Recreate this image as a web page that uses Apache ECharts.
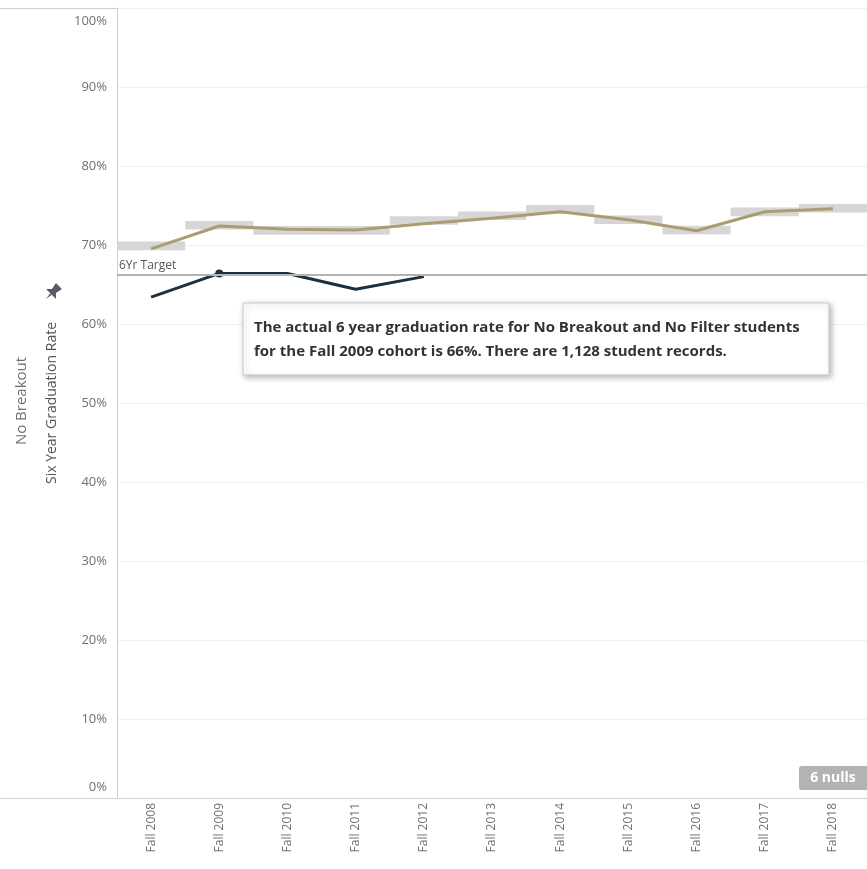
<!DOCTYPE html>
<html>
<head>
<meta charset="utf-8">
<script src="https://cdn.jsdelivr.net/npm/echarts@6/dist/echarts.min.js"></script>
<style>
  html, body { margin: 0; padding: 0; background: #fff; }
  #chart { width: 867px; height: 869px; }
</style>
</head>
<body>
<div id="chart"></div>
<script>
// cohort years on the x axis
const cohorts = ["Fall 2008", "Fall 2009", "Fall 2010", "Fall 2011", "Fall 2012", "Fall 2013",
  "Fall 2014", "Fall 2015", "Fall 2016", "Fall 2017", "Fall 2018"];
// tan line (comparison rate)
const comparisonRate = [69.5, 72.4, 72.0, 71.9, 72.7, 73.4, 74.2, 73.2, 71.8, 74.2, 74.6];
// light gray reference bands behind the tan line
const bandRate = [69.9, 72.5, 71.85, 71.85, 73.1, 73.7, 74.5, 73.2, 71.9, 74.2, 74.65];
// actual six year graduation rate, later cohorts not yet complete
const actualRate = [63.4, 66.4, 66.4, 64.4, 66.0, null, null, null, null, null, null];
const targetRate = 66.2;
const highlightIndex = 1;

const chart = echarts.init(document.getElementById("chart"));

const muted = "#707070";
const border = "#cfcfcf";
const font = "'Open Sans', sans-serif";

chart.setOption({
  animation: false,
  textStyle: { fontFamily: font },
  grid: { left: 117, right: 0, top: 8, bottom: 71 },
  xAxis: {
    type: "category",
    data: cohorts,
    axisLine: { lineStyle: { color: border } },
    axisTick: { show: false },
    axisLabel: {
      rotate: 90,
      margin: 5,
      color: muted,
      fontSize: 12,
      fontFamily: font,
    },
  },
  yAxis: {
    type: "value",
    min: 0,
    max: 100,
    interval: 10,
    name: "Six Year Graduation Rate",
    nameLocation: "middle",
    nameGap: 58,
    nameTextStyle: { color: "#555", fontSize: 14, fontFamily: font },
    axisLine: { show: true, lineStyle: { color: border } },
    axisTick: { show: false },
    splitLine: { lineStyle: { color: "#f0f0f0" } },
    axisLabel: {
      margin: 10,
      color: muted,
      fontSize: 13,
      fontFamily: font,
      formatter: (v) => (v === 100 ? "{t|100%}" : v === 0 ? "{b|0%}" : v + "%"),
      rich: {
        t: { padding: [26, 0, 0, 0], color: muted, fontSize: 13, fontFamily: font },
        b: { padding: [0, 0, 22, 0], color: muted, fontSize: 13, fontFamily: font },
      },
    },
  },
  series: [
    {
      type: "custom",
      z: 1,
      data: bandRate.map((v, i) => [i, v]),
      renderItem: (params, api) => {
        const top = api.coord([api.value(0), api.value(1) + 0.55]);
        const bottom = api.coord([api.value(0), api.value(1) - 0.55]);
        const w = api.size([1, 0])[0];
        return {
          type: "rect",
          shape: { x: top[0] - w / 2, y: top[1], width: w, height: bottom[1] - top[1] },
          style: { fill: "#d6d6d6" },
        };
      },
    },
    {
      type: "line",
      z: 3,
      data: comparisonRate,
      symbol: "none",
      lineStyle: { color: "#ab9d72", width: 3 },
      markLine: {
        silent: true,
        symbol: "none",
        data: [{ yAxis: targetRate }],
        lineStyle: { color: "#b3b3b3", width: 2, type: "solid" },
        label: {
          formatter: "6Yr Target",
          position: "insideStartTop",
          distance: [2, 3],
          color: "#555",
          fontSize: 12,
          fontFamily: font,
        },
      },
    },
    {
      type: "line",
      z: 4,
      data: actualRate.map((v, i) =>
        i === highlightIndex ? { value: v, symbol: "circle", symbolSize: 8 } : { value: v, symbol: "none" }),
      itemStyle: { color: "#1b3140" },
      lineStyle: { color: "#1b3140", width: 3 },
    },
  ],
  graphic: [
    { type: "line", shape: { x1: 0, y1: 8.5, x2: 867, y2: 8.5 }, style: { stroke: border, lineWidth: 1 } },
    { type: "line", shape: { x1: 0, y1: 798.5, x2: 117, y2: 798.5 }, style: { stroke: border, lineWidth: 1 } },
    {
      type: "text",
      x: 22,
      y: 401,
      rotation: Math.PI / 2,
      style: {
        text: "No Breakout",
        fill: muted,
        font: "15px 'Open Sans', sans-serif",
        align: "center",
        verticalAlign: "middle",
      },
    },
    {
      // pin icon next to the axis title
      type: "group",
      x: 52,
      y: 293,
      rotation: -Math.PI / 4,
      scaleX: 1.4,
      scaleY: 1.4,
      children: [
        { type: "polygon", shape: { points: [[-3, -7], [3, -7], [2, -2], [5, 1], [-5, 1], [-2, -2]] }, style: { fill: "#5a5a66" } },
        { type: "polygon", shape: { points: [[-0.8, 1], [0.8, 1], [0, 6]] }, style: { fill: "#5a5a66" } },
      ],
    },
    {
      type: "rect",
      z: 50,
      shape: { x: 243, y: 303, width: 586, height: 72 },
      style: {
        fill: "#fff",
        stroke: "#c9c9c9",
        lineWidth: 1,
        shadowBlur: 6,
        shadowOffsetX: 2,
        shadowOffsetY: 2,
        shadowColor: "rgba(0,0,0,0.3)",
      },
    },
    {
      type: "text",
      z: 51,
      x: 254,
      y: 328,
      style: {
        text: "The actual 6 year graduation rate for No Breakout and No Filter students",
        fill: "#333",
        font: "bold 15px 'Open Sans', sans-serif",
        verticalAlign: "middle",
      },
    },
    {
      type: "text",
      z: 51,
      x: 254,
      y: 352,
      style: {
        text: "for the Fall 2009 cohort is 66%. There are 1,128 student records.",
        fill: "#333",
        font: "bold 15px 'Open Sans', sans-serif",
        verticalAlign: "middle",
      },
    },
    {
      type: "rect",
      z: 50,
      shape: { x: 799, y: 766, width: 72, height: 24, r: 3 },
      style: { fill: "#b3b3b3" },
    },
    {
      type: "text",
      z: 51,
      x: 833,
      y: 778,
      style: {
        text: "6 nulls",
        fill: "#fff",
        font: "bold 14px 'Open Sans', sans-serif",
        align: "center",
        verticalAlign: "middle",
      },
    },
  ],
});
</script>
</body>
</html>
